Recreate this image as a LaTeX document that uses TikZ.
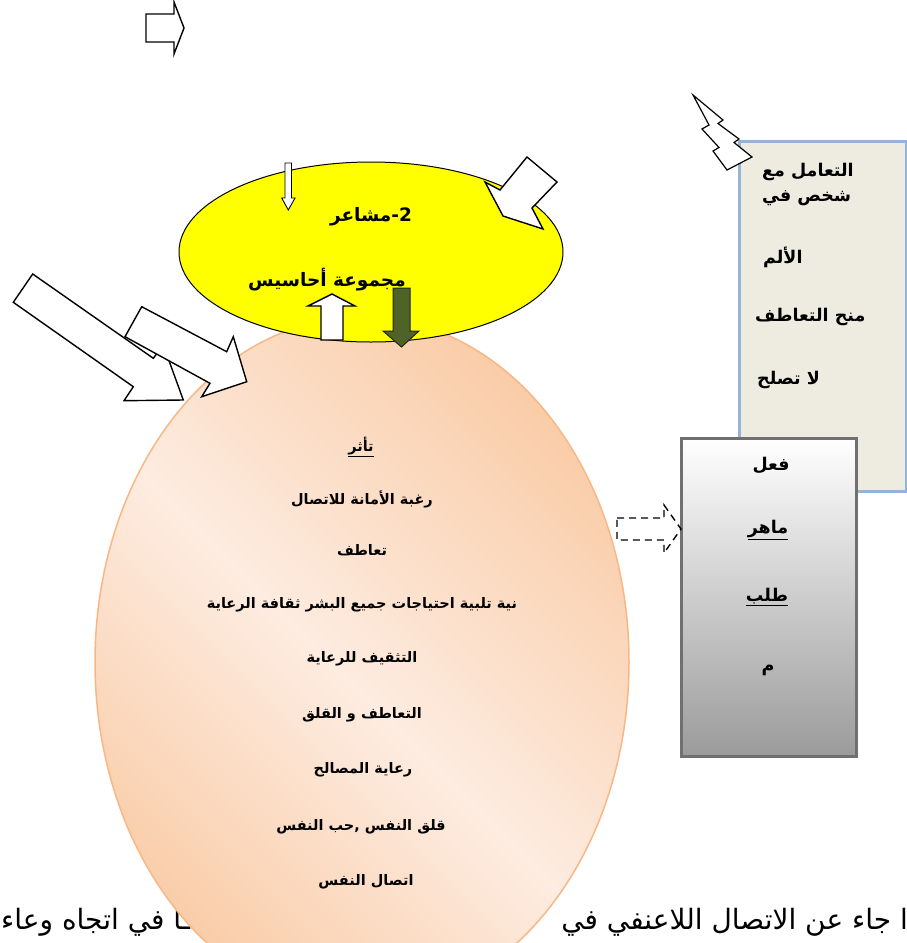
\documentclass[tikz,border=0pt]{standalone}
\usepackage{fontspec}
\TeXXeTstate=1
\newfontfamily\arabicfont[Script=Arabic]{DejaVu Sans}
\usetikzlibrary{shapes.geometric}
\definecolor{pkdark}{RGB}{249,199,158}
\definecolor{pklight}{RGB}{253,236,225}
\definecolor{pkline}{RGB}{247,184,134}
\definecolor{olivearrow}{RGB}{79,98,40}
\definecolor{beigebox}{RGB}{238,236,225}
\definecolor{bluebord}{RGB}{149,179,215}
\definecolor{graybord}{RGB}{112,112,112}
\definecolor{graybot}{RGB}{155,155,155}
\definecolor{yellowfill}{RGB}{255,255,0}
\pgfdeclarehorizontalshading{peach}{100bp}{color(0bp)=(pkdark); color(20bp)=(pkdark); color(48bp)=(pklight); color(80bp)=(pkdark); color(100bp)=(pkdark)}
\newcommand{\AR}[1]{\beginR #1\endR}
\tikzset{
  barrow/.style={draw=black, line width=1.4pt, fill=white, line join=miter},
  ytext/.style={font=\arabicfont\bfseries\fontsize{18.5}{22}\selectfont, inner sep=0pt},
  ptext/.style={font=\arabicfont\bfseries\fontsize{14.5}{17}\selectfont, inner sep=0pt},
  btext/.style={font=\arabicfont\bfseries\fontsize{17.5}{20}\selectfont, inner sep=0pt},
  bigtext/.style={font=\arabicfont\fontsize{28}{32}\selectfont, inner sep=0pt},
}
\begin{document}
\begin{tikzpicture}[x=1pt,y=-1pt]
\useasboundingbox (0,0) rectangle (907,943);
\clip (0,0) rectangle (907,943);
\fill[white] (0,0) rectangle (907,943);

% top-left block arrow
\draw[barrow] (146,14) -- (174,14) -- (174,2) -- (184,28) -- (174,54) -- (174,42) -- (146,42) -- cycle;

% bottom text line (partly hidden by the ellipse)
\node[bigtext, anchor=base east] (btr) at (908,929) {\AR{ا جاء عن الاتصال اللاعنفي في}};
\node[bigtext, anchor=base west] (btl) at (1,929) {\AR{ـا في اتجاه وعاء}};

% pink ellipse
\node[ellipse, draw=pkline, line width=1.5pt, shade, shading=peach, shading angle=45,
      minimum width=534pt, minimum height=690pt, inner sep=0pt] (pink) at (362,662) {};

% yellow ellipse
\node[ellipse, draw=black, line width=1pt, fill=yellowfill,
      minimum width=384pt, minimum height=180pt, inner sep=0pt] (yel) at (371,252) {};
\node[ytext] (y1) at (371,217) {\AR{2-مشاعر}};
\node[ytext] (y2) at (327,280) {\AR{مجموعة أحاسيس}};

% small down arrow in yellow ellipse
\draw[draw=black, line width=0.9pt, fill=white] (285,163) -- (291.5,163) -- (291.5,198) -- (295,198) -- (288.3,210) -- (281.7,198) -- (285,198) -- cycle;

% up arrow (white) and down arrow (olive)
\draw[barrow] (321,340) -- (321,306) -- (308,306) -- (332,294) -- (355,306) -- (343,306) -- (343,340) -- cycle;
\draw[draw=black!60!olivearrow, line width=1pt, fill=olivearrow] (393,288) -- (410,288) -- (410,331) -- (419,331) -- (401.5,347) -- (383,331) -- (393,331) -- cycle;

% big arrow at top right of yellow ellipse
\draw[barrow] (527,157) -- (557,182) -- (532,208) -- (543,229) -- (503,216) -- (485,182) -- (500,190) -- cycle;

% two big arrows on the left
\draw[barrow] (32.7,274) -- (153.3,358.3) -- (163.3,345) -- (183.3,400) -- (124,400.7) -- (133.3,386.7) -- (13.3,302.3) -- cycle;
\draw[barrow] (141.7,306.7) -- (226.7,351.7) -- (233.3,336.7) -- (246.7,381.7) -- (201.7,396.7) -- (210,383.3) -- (125,336.7) -- cycle;

% text in pink ellipse
\node[ptext] (p1) at (361,447) {\underline{\AR{تأثر}}};
\node[ptext] (p2) at (362,499) {\AR{رغبة الأمانة للاتصال}};
\node[ptext] (p3) at (362,550) {\AR{تعاطف}};
\node[ptext] (p4) at (362,605) {\AR{نية تلبية احتياجات جميع البشر ثقافة الرعاية}};
\node[ptext] (p5) at (362,659) {\AR{التثقيف للرعاية}};
\node[ptext] (p6) at (362,715) {\AR{التعاطف و القلق}};
\node[ptext] (p7) at (363,770) {\AR{رعاية المصالح}};
\node[ptext] (p8) at (361,827) {\AR{قلق النفس ,حب النفس}};
\node[ptext] (p9) at (366,882) {\AR{اتصال النفس}};

% beige box on the right
\node[draw=bluebord, line width=2.5pt, fill=beigebox, anchor=north west,
      minimum width=167pt, minimum height=350pt, inner sep=0pt] (box1) at (738,140) {};
\node[btext, anchor=west] (b1) at (762,172) {\AR{التعامل مع}};
\node[btext, anchor=west] (b2) at (762,198) {\AR{شخص في}};
\node[btext, anchor=west] (b3) at (763,257) {\AR{الألم}};
\node[btext, anchor=west] (b4) at (755,317) {\AR{منح التعاطف}};
\node[btext, anchor=west] (b5) at (757,380) {\AR{لا تصلح}};

% lightning bolt
\draw[draw=black, line width=1.2pt, fill=white, line join=miter] (693,95) -- (723,120) -- (718,123.5) -- (739,139) -- (734,142.5) -- (752,157) -- (727,170) -- (713,151) -- (719,147.5) -- (702,129) -- (709,125) -- cycle;

% gray box with shadow
\fill[black!25] (683,440) rectangle (858,758);
\node[draw=graybord, line width=2.5pt, top color=white, bottom color=graybot, anchor=north west,
      minimum width=175pt, minimum height=318pt, inner sep=0pt] (box2) at (680,437) {};
\node[btext] (g1) at (771,465) {\AR{فعل}};
\node[btext] (g2) at (768,530) {\underline{\AR{ماهر}}};
\node[btext] (g3) at (767,597) {\underline{\AR{طلب}}};
\node[btext] (g4) at (768,670) {\AR{م}};

% dashed block arrow
\draw[dashed, dash pattern=on 7pt off 5pt, line width=1.4pt, line join=miter] (617,518) -- (664,518) -- (664,505) -- (681,529) -- (664,553) -- (664,540) -- (617,540) -- cycle;
\end{tikzpicture}
\end{document}
